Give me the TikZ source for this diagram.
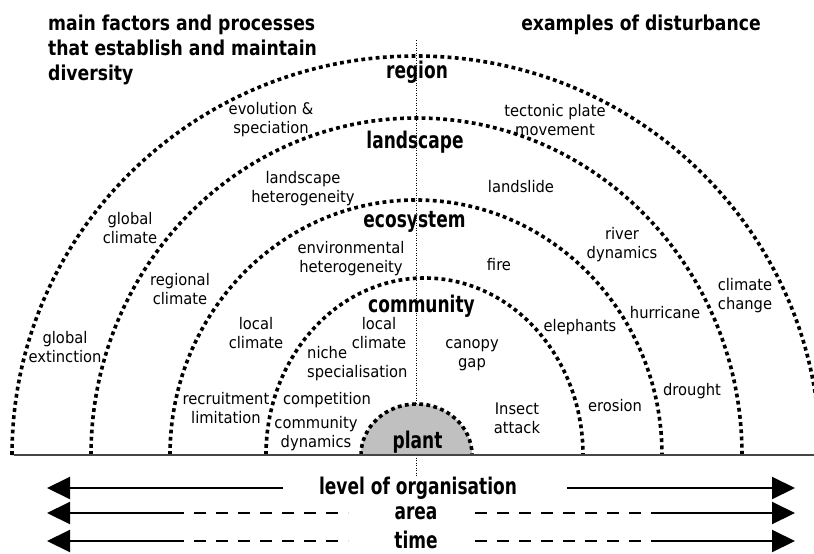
\documentclass[tikz,border=0pt]{standalone}
\usepackage{fontspec}
\setmainfont{DejaVu Sans}
\newfontfamily\smallf[FakeStretch=0.92]{DejaVu Sans}
\newfontfamily\levf[FakeStretch=0.74]{DejaVu Sans}
\newfontfamily\ttlf[FakeStretch=0.84]{DejaVu Sans}
\usetikzlibrary{arrows.meta}
\definecolor{plantgray}{RGB}{192,192,192}
\definecolor{basegray}{RGB}{70,70,70}
\begin{document}
\begin{tikzpicture}[x=1pt,y=-1pt,
  ring/.style={line width=3.6pt, dash pattern=on 3.8pt off 3.4pt},
  lab/.style={font=\smallf\fontsize{16}{19}\selectfont, align=center, inner sep=0pt},
  lvl/.style={font=\levf\bfseries\fontsize{23}{25}\selectfont, inner sep=0pt},
  ttl/.style={font=\ttlf\bfseries\fontsize{20.5}{25}\selectfont, align=left, inner sep=0pt},
  axisline/.style={line width=2pt},
  axisdash/.style={line width=2pt, dash pattern=on 12pt off 10pt},
  tip/.style={-{Triangle[length=23pt,width=22pt]}},
]
\useasboundingbox (0,0) rectangle (814,554);
\begin{scope}
\clip (0,0) rectangle (814,554);
% vertical axis
\coordinate (vtop) at (416,40);
\coordinate (vbot) at (416,476);
\draw[line width=1pt, dash pattern=on 1pt off 1.5pt] (vtop) -- (vbot);
% rings
\draw[ring] (12,455) arc[start angle=180, end angle=360, x radius=404, y radius=399];
\draw[ring] (91,455) arc[start angle=180, end angle=360, x radius=325.5, y radius=337];
\draw[ring] (170,455) arc[start angle=180, end angle=360, x radius=246, y radius=255];
\draw[ring] (266,455) arc[start angle=180, end angle=360, x radius=158.5, y radius=177];
% plant
\fill[plantgray] (361,455) arc[start angle=180, end angle=360, x radius=55.5, y radius=51] -- cycle;
\draw[ring] (361,455) arc[start angle=180, end angle=360, x radius=55.5, y radius=51];
% base line
\coordinate (b1) at (14,455);
\coordinate (b2) at (814,455);
\draw[line width=1.5pt, basegray] (b1) -- (b2);
\end{scope}

% titles
\node[ttl, anchor=north west] (t1) at (48,14.4) {main factors and processes\\that establish and maintain\\diversity};
\node[ttl, anchor=base] (t2) at (641,30) {examples of disturbance};

% level labels
\node[lvl] (region) at (417,72) {region};
\node[lvl] (landscape) at (415,142) {landscape};
\node[lvl] (ecosystem) at (414.5,222) {ecosystem};
\node[lvl] (community) at (421.5,306) {community};
\node[lvl] (plant) at (417.5,442) {plant};

% left labels
\node[lab] (evo) at (271,120) {evolution \&\\speciation};
\node[lab] (lhet) at (303,189) {landscape\\heterogeneity};
\node[lab] (gclim) at (130,228) {global\\climate};
\node[lab] (rclim) at (180,289) {regional\\climate};
\node[lab] (gext) at (65,347) {global\\extinction};
\node[lab] (ehet) at (351,259) {environmental\\heterogeneity};
\node[lab] (lclimA) at (256,333) {local\\climate};
\node[lab] (lclimB) at (379,333) {local\\climate};
\node[lab, align=left, anchor=west] (niche) at (307,364) {niche\\specialisation};
\node[lab] (recr) at (226,408) {recruitment\\limitation};
\node[lab] (comp) at (327,400) {competition};
\node[lab] (cdyn) at (316,434) {community\\dynamics};

% right labels
\node[lab] (tect) at (555,120) {tectonic plate\\movement};
\node[lab] (lslide) at (521,187) {landslide};
\node[lab] (river) at (622,245) {river\\dynamics};
\node[lab] (fire) at (499,265) {fire};
\node[lab] (cchange) at (745,296) {climate\\change};
\node[lab] (hurr) at (665,313) {hurricane};
\node[lab] (eleph) at (580,327) {elephants};
\node[lab] (canopy) at (472,355) {canopy\\gap};
\node[lab] (drought) at (692,391) {drought};
\node[lab] (erosion) at (615,406) {erosion};
\node[lab] (insect) at (517,418) {Insect\\attack};

% axes
\node[lvl] (lvlorg) at (418,488) {level of organisation};
\node[lvl] (area) at (416,513) {area};
\node[lvl] (time) at (416,539.5) {time};

\coordinate (o1) at (47,488);
\coordinate (o2) at (283,488);
\coordinate (o3) at (567,488);
\coordinate (o4) at (795,488);
\draw[axisline, tip] (o2) -- (o1);
\draw[axisline, tip] (o3) -- (o4);

\coordinate (a1) at (47,513);
\coordinate (a2) at (172,513);
\coordinate (a3) at (348,513);
\coordinate (a4) at (475,513);
\coordinate (a5) at (655,513);
\coordinate (a6) at (795,513);
\draw[axisline, tip] (a2) -- (a1);
\draw[axisdash] (a2) -- (a3);
\draw[axisdash] (a4) -- (a5);
\draw[axisline, tip] (a5) -- (a6);

\coordinate (m1) at (47,541);
\coordinate (m2) at (172,541);
\coordinate (m3) at (348,541);
\coordinate (m4) at (475,541);
\coordinate (m5) at (655,541);
\coordinate (m6) at (795,541);
\draw[axisline, tip] (m2) -- (m1);
\draw[axisdash] (m2) -- (m3);
\draw[axisdash] (m4) -- (m5);
\draw[axisline, tip] (m5) -- (m6);
\end{tikzpicture}
\end{document}
